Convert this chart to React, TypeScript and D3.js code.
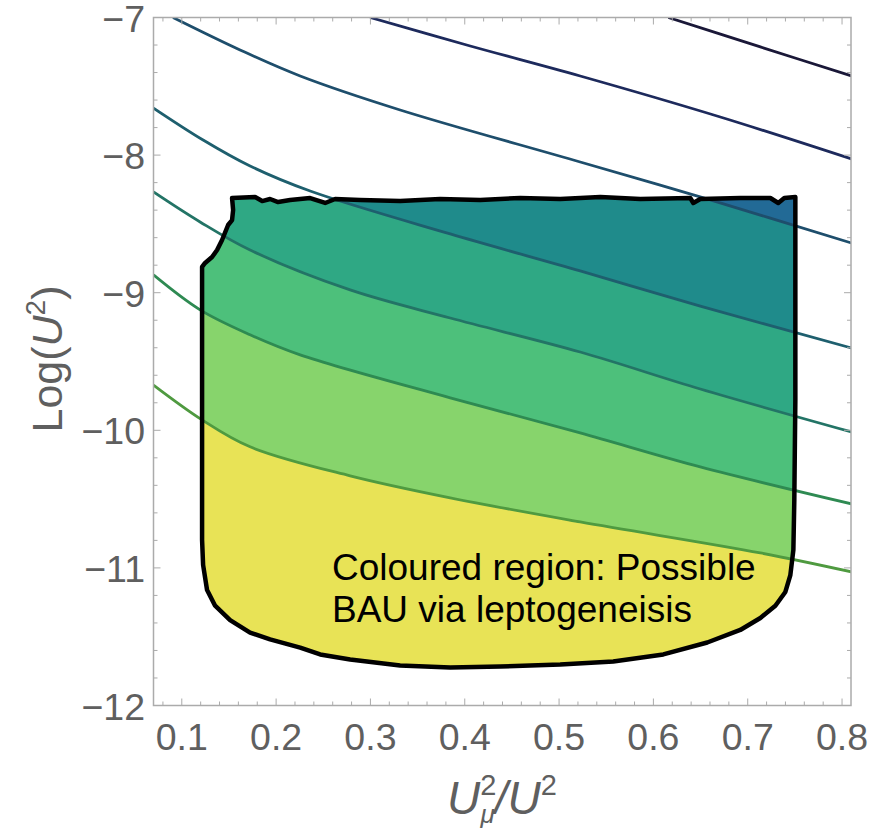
import React from "react";
import * as d3 from "d3";

const xTickValues = [0.1, 0.2, 0.3, 0.4, 0.5, 0.6, 0.7, 0.8];
const yTickValues = [-12, -11, -10, -9, -8, -7];
const xDomain = [0.07, 0.8095];
const yDomain = [-12, -7];

// Boundary of the coloured (leptogenesis) region, [U_mu^2/U^2, Log U^2]
const regionBoundary: [number, number][] = [
  [0.1533, -8.312], [0.1777, -8.305], [0.1852, -8.334], [0.1936, -8.319],
  [0.2021, -8.341], [0.2148, -8.326], [0.2361, -8.312], [0.252, -8.348],
  [0.2626, -8.319], [0.2891, -8.326], [0.3315, -8.334], [0.3739, -8.319],
  [0.4164, -8.326], [0.4588, -8.312], [0.5012, -8.319], [0.5437, -8.305],
  [0.5861, -8.319], [0.6391, -8.312], [0.6423, -8.348], [0.6497, -8.319],
  [0.6921, -8.312], [0.724, -8.312], [0.7324, -8.348], [0.7388, -8.312],
  [0.7505, -8.305], [0.7505, -9.78], [0.7494, -10.507], [0.7484, -10.87],
  [0.7452, -11.052], [0.7399, -11.175], [0.7293, -11.275], [0.7134, -11.364],
  [0.6921, -11.451], [0.6571, -11.542], [0.6105, -11.629], [0.5574, -11.68],
  [0.5012, -11.702], [0.4376, -11.717], [0.3846, -11.724], [0.3315, -11.709],
  [0.2785, -11.666], [0.2467, -11.629], [0.2255, -11.579], [0.1936, -11.52],
  [0.1724, -11.47], [0.1512, -11.379], [0.1353, -11.275], [0.1268, -11.161],
  [0.1226, -10.979], [0.1215, -10.797], [0.1215, -9.78], [0.1215, -8.813],
  [0.1247, -8.784], [0.1321, -8.741], [0.1374, -8.69], [0.1427, -8.617],
  [0.1491, -8.508], [0.1533, -8.472], [0.1544, -8.399],
];

// Contour lines, top (darkest) to bottom (lightest)
const contour1: [number, number][] = [[0.6158, -7.0], [0.7134, -7.214], [0.81, -7.425]];
const contour2: [number, number][] = [
  [0.2997, -7.0], [0.4058, -7.207], [0.5224, -7.425], [0.6709, -7.723], [0.81, -8.028],
];
const contour3: [number, number][] = [
  [0.0907, -7.0], [0.1618, -7.236], [0.2255, -7.425], [0.3315, -7.672],
  [0.5224, -8.05], [0.6603, -8.326], [0.81, -8.639],
];
const contour4: [number, number][] = [
  [0.07, -7.658], [0.1226, -7.89], [0.1724, -8.079], [0.2361, -8.261],
  [0.3846, -8.573], [0.5224, -8.842], [0.6497, -9.097], [0.81, -9.402],
];
const contour5: [number, number][] = [
  [0.07, -8.268], [0.1194, -8.486], [0.1724, -8.69], [0.2785, -8.98],
  [0.3846, -9.184], [0.5224, -9.431], [0.6497, -9.7], [0.81, -10.012],
];
const contour6: [number, number][] = [
  [0.07, -8.871], [0.1194, -9.125], [0.1724, -9.306], [0.2255, -9.452],
  [0.3846, -9.764], [0.5224, -10.019], [0.6497, -10.266], [0.81, -10.535],
];
const contour7: [number, number][] = [
  [0.07, -9.671], [0.1215, -9.924], [0.1724, -10.12], [0.2785, -10.331],
  [0.3846, -10.491], [0.5224, -10.666], [0.7134, -10.891], [0.81, -11.029],
];

const contours = [contour1, contour2, contour3, contour4, contour5, contour6, contour7];
const lineColors = ["#1a1838", "#1d2a5c", "#1e4e6c", "#1e5f6e", "#237466", "#2e8a52", "#4f9a40"];
// band fill above contour i (inside region); region base is yellow
const bandAbove: { contour: number; color: string }[] = [
  { contour: 6, color: "#87d46c" },
  { contour: 5, color: "#4dc07b" },
  { contour: 4, color: "#2fa884" },
  { contour: 3, color: "#1f8b8b" },
  { contour: 2, color: "#226a96" },
];
const regionBase = "#e8e356";
const annotationLines = ["Coloured region: Possible", "BAU via leptogeneisis"];

const W = 877;
const H = 830;
const PL = 153.5, PR = 851, PT = 17.5, PB = 705.5;

export default function App() {
  const x = d3.scaleLinear().domain(xDomain).range([PL, PR]);
  const y = d3.scaleLinear().domain(yDomain).range([PB, PT]);

  const line = d3
    .line<[number, number]>()
    .x((d) => x(d[0]))
    .y((d) => y(d[1]))
    .curve(d3.curveCatmullRom.alpha(0.5));
  const areaAbove = d3
    .area<[number, number]>()
    .x((d) => x(d[0]))
    .y0(() => y(-6))
    .y1((d) => y(d[1]))
    .curve(d3.curveCatmullRom.alpha(0.5));
  const regionPath = d3
    .line<[number, number]>()
    .x((d) => x(d[0]))
    .y((d) => y(d[1]))
    .curve(d3.curveLinearClosed)(regionBoundary) as string;

  const xMinor = d3.range(0.08, 0.8001, 0.02).filter((v) => v >= xDomain[0] && v <= xDomain[1]);
  const yMinor = d3.range(-12, -6.999, 0.2);
  const frameColor = "#ababab";
  const labelColor = "#5f5f5f";
  const font = "'Liberation Sans', Arial, Helvetica, sans-serif";

  return (
    <svg
      width={W}
      height={H}
      style={{ position: "absolute", left: 0, top: 0, background: "#fff" }}
      fontFamily={font}
    >
      <defs>
        <clipPath id="regionClip">
          <path d={regionPath} />
        </clipPath>
        <clipPath id="plotClip">
          <rect x={PL} y={PT} width={PR - PL} height={PB - PT} />
        </clipPath>
      </defs>

      {/* region fills */}
      <g clipPath="url(#regionClip)">
        <path d={regionPath} fill={regionBase} />
        {bandAbove.map((b, i) => (
          <path key={i} d={areaAbove(contours[b.contour]) as string} fill={b.color} />
        ))}
      </g>

      {/* contour lines */}
      <g clipPath="url(#plotClip)">
        {contours.map((c, i) => (
          <path key={i} d={line(c) as string} fill="none" stroke={lineColors[i]} strokeWidth={2.8} />
        ))}
      </g>

      {/* region outline */}
      <path d={regionPath} fill="none" stroke="#000" strokeWidth={4.5} strokeLinejoin="round" />

      {/* frame */}
      <rect x={PL} y={PT} width={PR - PL} height={PB - PT} fill="none" stroke={frameColor} strokeWidth={1.5} />
      {xMinor.map((v, i) => {
        const major = xTickValues.some((t) => Math.abs(t - v) < 1e-6);
        const len = major ? 7 : 4;
        return (
          <g key={"xm" + i} stroke={frameColor} strokeWidth={1}>
            <line x1={x(v)} x2={x(v)} y1={PB} y2={PB - len} />
            <line x1={x(v)} x2={x(v)} y1={PT} y2={PT + len} />
          </g>
        );
      })}
      {yMinor.map((v, i) => {
        const major = yTickValues.some((t) => Math.abs(t - v) < 1e-6);
        const len = major ? 7 : 4;
        return (
          <g key={"ym" + i} stroke={frameColor} strokeWidth={1}>
            <line x1={PL} x2={PL + len} y1={y(v)} y2={y(v)} />
            <line x1={PR} x2={PR - len} y1={y(v)} y2={y(v)} />
          </g>
        );
      })}

      {/* tick labels */}
      {xTickValues.map((v) => (
        <text key={"xl" + v} x={x(v)} y={750} textAnchor="middle" fontSize={37.5} fill={labelColor}>
          {v.toFixed(1)}
        </text>
      ))}
      {yTickValues.map((v) => (
        <text key={"yl" + v} x={145} y={y(v) + 14} textAnchor="end" fontSize={37.5} fill={labelColor}>
          {"\u2212" + Math.abs(v)}
        </text>
      ))}

      {/* axis titles */}
      <text transform="translate(62,359) rotate(-90)" textAnchor="middle" fontSize={43} fill={labelColor}>
        Log(<tspan fontStyle="italic">U</tspan>
        <tspan fontSize={28} dy={-17}>2</tspan>
        <tspan dy={17}>)</tspan>
      </text>
      <text x={447} y={814} fontSize={46} fill={labelColor}>
        <tspan fontStyle="italic">U</tspan>
        <tspan fontSize={29} dy={-19}>2</tspan>
        <tspan fontSize={26} fontStyle="italic" dx={-16} dy={28}>{"\u03bc"}</tspan>
        <tspan dy={-9} fontStyle="italic">/</tspan>
        <tspan fontStyle="italic">U</tspan>
        <tspan fontSize={29} dy={-19}>2</tspan>
      </text>

      {/* annotation */}
      {annotationLines.map((t, i) => (
        <text key={t} x={332} y={580 + i * 42} fontSize={37} fill="#000">
          {t}
        </text>
      ))}
    </svg>
  );
}
